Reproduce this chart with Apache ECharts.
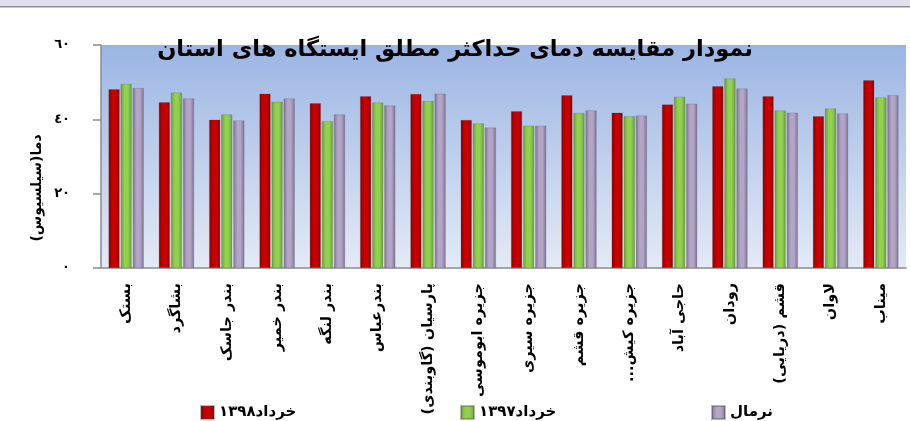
<!DOCTYPE html>
<html dir="rtl">
<head>
<meta charset="utf-8">
<script src="https://cdn.jsdelivr.net/npm/echarts@6/dist/echarts.min.js"></script>
<style>
  html, body { margin: 0; padding: 0; background: #fff; }
  #chart { width: 910px; height: 421px; }
</style>
</head>
<body>
<div id="chart" dir="rtl"></div>
<script>
// ایستگاه ها
const stations = [
  'بستک', 'بشاگرد', 'بندر جاسک', 'بندر خمیر', 'بندر لنگه', 'بندرعباس',
  'پارسیان (گاوبندی)', 'جزیره ابوموسی', 'جزیره سیری', 'جزیره قشم',
  'جزیره کیش...', 'حاجی آباد', 'رودان', 'قشم (دریایی)', 'لاوان', 'میناب'
]
const khordad1398 = [48.1, 44.6, 39.9, 46.9, 44.3, 46.2, 46.8, 39.8, 42.2, 46.5, 41.8, 44.0, 48.9, 46.2, 40.8, 50.5]
const khordad1397 = [49.5, 47.2, 41.3, 44.7, 39.5, 44.5, 44.9, 38.9, 38.3, 41.7, 40.8, 46.1, 51.0, 42.4, 42.9, 45.9]
const normal      = [48.4, 45.6, 39.7, 45.6, 41.3, 43.7, 46.9, 37.8, 38.3, 42.4, 41.0, 44.2, 48.3, 41.8, 41.6, 46.5]
const yTickLabels = ['٠', '٢٠', '٤٠', '٦٠']
const seriesNames = ['خرداد۱۳۹۸', 'خرداد۱۳۹۷', 'نرمال']

const FONT = 'DejaVu Sans'

// گرادیان افقی برای حالت استوانه ای میله ها
function barGrad(edge, mid) {
  return {
    type: 'linear', x: 0, y: 0, x2: 1, y2: 0,
    colorStops: [
      { offset: 0, color: edge },
      { offset: 0.35, color: mid },
      { offset: 0.65, color: mid },
      { offset: 1, color: edge }
    ]
  }
}

const barColors = [
  barGrad('#8a0000', '#c80000'),
  barGrad('#6a9f35', '#92d050'),
  barGrad('#7f7293', '#b3a5c6')
]
const seriesData = [khordad1398, khordad1397, normal]

const chart = echarts.init(document.getElementById('chart'))

chart.setOption({
  animation: false,
  textStyle: { fontFamily: FONT },
  title: {
    text: 'نمودار مقایسه دمای حداکثر مطلق ایستگاه های استان',
    left: 'center', top: 34,
    textStyle: { fontFamily: FONT, fontSize: 22.5, fontWeight: 'bold', color: '#000' }
  },
  graphic: [
    { type: 'rect', shape: { x: 0, y: 0, width: 910, height: 6 }, style: { fill: '#e4dfec' } },
    { type: 'rect', shape: { x: 0, y: 6, width: 910, height: 1.5 }, style: { fill: '#8f8f98' } },
    {
      type: 'text', x: 37, y: 188, rotation: Math.PI / 2,
      style: {
        text: 'دما(سیلسیوس)', align: 'center', verticalAlign: 'middle',
        font: 'bold 14px "DejaVu Sans"', fill: '#000'
      }
    }
  ],
  legend: [
    { data: [seriesNames[0]], left: 195, top: 400 },
    { data: [seriesNames[1]], left: 455, top: 400 },
    { data: [seriesNames[2]], left: 706, top: 400 }
  ].map(l => Object.assign(l, {
    icon: 'rect', itemWidth: 13, itemHeight: 13, itemGap: 4,
    textStyle: { fontFamily: FONT, fontSize: 15, fontWeight: 'bold', color: '#000' }
  })),
  grid: {
    left: 101, right: 4, top: 45, bottom: 153,
    show: true, borderWidth: 0,
    backgroundColor: {
      type: 'linear', x: 0, y: 0, x2: 0, y2: 1,
      colorStops: [
        { offset: 0, color: '#9bb5e3' },
        { offset: 1, color: '#e3eaf6' }
      ]
    }
  },
  xAxis: {
    type: 'category', data: stations,
    axisLine: { lineStyle: { color: '#8c8c8c', width: 1.5 } },
    axisTick: { length: 6, lineStyle: { color: '#8c8c8c', width: 1.5 } },
    axisLabel: {
      interval: 0, rotate: 90, margin: 15,
      fontFamily: FONT, fontSize: 14.5, fontWeight: 'bold', color: '#000'
    }
  },
  yAxis: {
    type: 'value', min: 0, max: 60, interval: 20,
    axisLine: { show: true, lineStyle: { color: '#8c8c8c', width: 1.5 } },
    axisTick: { show: true, length: 8, lineStyle: { color: '#8c8c8c', width: 1.5 } },
    splitLine: { show: false },
    axisLabel: {
      margin: 31, fontFamily: FONT, fontSize: 13, fontWeight: 'bold', color: '#000',
      formatter: v => yTickLabels[v / 20]
    }
  },
  series: seriesNames.map((name, i) => ({
    name, type: 'bar', data: seriesData[i],
    barWidth: 11, barGap: '10%',
    itemStyle: { color: barColors[i], borderColor: 'rgba(60,60,60,0.35)', borderWidth: 0.5 }
  }))
})
</script>
</body>
</html>
